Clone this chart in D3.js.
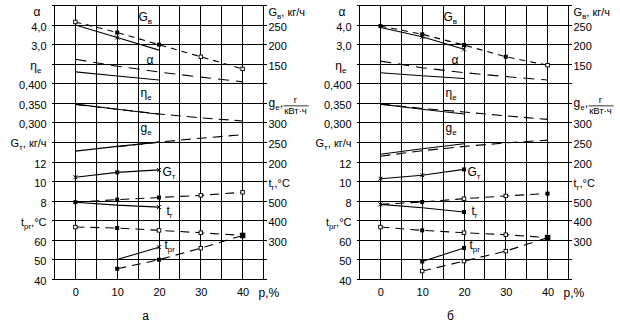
<!DOCTYPE html>
<html>
<head>
<meta charset="utf-8">
<script src="https://cdn.jsdelivr.net/npm/d3@7"></script>
<style>
  body { margin: 0; background: #fff; }
  text { font-family: "Liberation Sans", Arial, sans-serif; fill: #000; }
</style>
</head>
<body>
<div id="chart"></div>
<script>
// x values (p, %)
const pct = [0, 10, 20, 30, 40];
const pctShort = [0, 10, 20];
const pctTen = [10, 20];
const pctLate = [10, 20, 30, 40];
const xTicks = [0, 10, 20, 30, 40];

// tick values
const alphaTicks = [4, 3];
const etaTicks = [0.4, 0.35, 0.3];
const gtTicks = [12, 10, 8];
const tprTicks = [60, 50, 40];
const gvTicks = [250, 200, 150];
const geTicks = [300, 250, 200];
const trTicks = [500, 400, 300];

// panel а
const gvDashA = [258, 231, 200, 169, 138];
const gvSolidA = [250, 218, 186];
const alphaDashA = [2.25, 1.9, 1.6, 1.34, 1.1];
const alphaSolidA = [1.61, 1.4, 1.19];
const etaDashA = [0.347, 0.335, 0.323, 0.313, 0.305];
const etaSolidA = [0.348, 0.335, 0.322];
const geDashA = [239, 251, 261, 270];
const geSolidA = [228, 240, 251];
const gtA = [10.45, 10.95, 11.2];
const trDashA = [495, 508, 519, 530, 546];
const trSolidA = [495, 480, 470];
const tprUpperA = [66.8, 66.3, 65.1, 63.9, 62.5];
const tprSolidA = [50.2, 56.5];
const tprLowerA = [45.5, 50.1, 56, 62.5];

// panel б
const gvDashB = [247.5, 226.5, 199, 169, 147.5];
const gvSolidB = [244, 220, 188];
const alphaDashB = [2.16, 1.82, 1.57, 1.37, 1.19];
const alphaSolidB = [1.56, 1.41, 1.27];
const etaDashB = [0.348, 0.337, 0.328, 0.318, 0.309];
const etaSolidB = [0.348, 0.335, 0.323];
const geDashB = [215, 229, 240, 249, 256];
const geSolidB = [220, 234, 247];
const gtB = [10.3, 10.65, 11.25];
const trDashB = [484, 496, 513, 527, 539];
const trSolidB = [484, 467, 445];
const tprUpperB = [66.8, 65.1, 63.9, 62.9, 61.4];
const tprSolidB = [49.2, 56.1];
const tprLowerB = [44.3, 49.4, 54.5, 61.4];

// marker kinds: o open square, s filled square, S big filled, x cross, '' none
const panelA = {
  left: 54.5, letter: 'а',
  series: [
    {q: 'gv', xs: pct, v: gvDashA, dash: '6,5', m: ['o', 's', 's', 'o', 'o']},
    {q: 'gv', xs: pctShort, v: gvSolidA, m: ['', 'x', '']},
    {q: 'alpha', xs: pct, v: alphaDashA, dash: '11,7', m: []},
    {q: 'alpha', xs: pctShort, v: alphaSolidA, m: []},
    {q: 'eta', xs: pct, v: etaDashA, dash: '10,6', m: []},
    {q: 'eta', xs: pctShort, v: etaSolidA, m: []},
    {q: 'ge', xs: pctLate, v: geDashA, dash: '10,6', m: []},
    {q: 'ge', xs: pctShort, v: geSolidA, m: []},
    {q: 'gt', xs: pctShort, v: gtA, m: ['x', 's', 'x']},
    {q: 'tr', xs: pct, v: trDashA, dash: '9,6', m: ['s', 's', 's', 'o', 'o']},
    {q: 'tr', xs: pctShort, v: trSolidA, m: ['', '', 'x']},
    {q: 'tpr', xs: pct, v: tprUpperA, dash: '9,6', m: ['o', 's', 'o', 'o', 'S']},
    {q: 'tpr', xs: pctTen, v: tprSolidA, m: ['', 'x']},
    {q: 'tpr', xs: pctLate, v: tprLowerA, dash: '9,6', m: ['s', 's', 'o', '']}
  ]
};
const panelB = {
  left: 359.5, letter: 'б',
  series: [
    {q: 'gv', xs: pct, v: gvDashB, dash: '6,5', m: ['s', 's', 's', 's', 'o']},
    {q: 'gv', xs: pctShort, v: gvSolidB, m: ['', 'x', 'x']},
    {q: 'alpha', xs: pct, v: alphaDashB, dash: '11,7', m: []},
    {q: 'alpha', xs: pctShort, v: alphaSolidB, m: []},
    {q: 'eta', xs: pct, v: etaDashB, dash: '10,6', m: []},
    {q: 'eta', xs: pctShort, v: etaSolidB, m: []},
    {q: 'ge', xs: pct, v: geDashB, dash: '10,6', m: []},
    {q: 'ge', xs: pctShort, v: geSolidB, m: []},
    {q: 'gt', xs: pctShort, v: gtB, m: ['x', 'x', 's']},
    {q: 'tr', xs: pct, v: trDashB, dash: '9,6', m: ['x', 's', 'o', 'o', 's']},
    {q: 'tr', xs: pctShort, v: trSolidB, m: ['', '', 's']},
    {q: 'tpr', xs: pct, v: tprUpperB, dash: '9,6', m: ['o', 's', 'o', 'o', 'S']},
    {q: 'tpr', xs: pctTen, v: tprSolidB, m: ['s', 's']},
    {q: 'tpr', xs: pctLate, v: tprLowerB, dash: '9,6', m: ['o', 'o', 'o', '']}
  ]
};

const width = 620, height = 326;
const plotTop = 5.5, plotBottom = 279.5, pw = 209;

const svg = d3.select('#chart').append('svg')
  .attr('width', width)
  .attr('height', height);

// every quantity sits on the same 14 row grid
const rowY = d3.scaleLinear().domain([0, 14]).range([plotTop, plotBottom]);
const yScales = {
  alpha: d3.scaleLinear().domain([4, 3]).range([rowY(1), rowY(2)]),
  eta: d3.scaleLinear().domain([0.4, 0.3]).range([rowY(4), rowY(6)]),
  gt: d3.scaleLinear().domain([12, 8]).range([rowY(8), rowY(10)]),
  tpr: d3.scaleLinear().domain([60, 40]).range([rowY(12), rowY(14)]),
  gv: d3.scaleLinear().domain([250, 150]).range([rowY(1), rowY(3)]),
  ge: d3.scaleLinear().domain([300, 200]).range([rowY(6), rowY(8)]),
  tr: d3.scaleLinear().domain([500, 300]).range([rowY(10), rowY(12)])
};

const fmt = (n) => d => d3.format('.' + n + 'f')(d).replace('.', ',');

// text with subscripts: parts = [[text, isSub], ...]
function label(g, x, y, parts, anchor, size) {
  const t = g.append('text')
    .attr('x', x).attr('y', y)
    .attr('text-anchor', anchor || 'start')
    .style('font-size', (size || 11) + 'px');
  let shifted = 0;
  parts.forEach(p => {
    const sub = p[1];
    const dy = sub ? 3 - shifted : -shifted;
    shifted = sub ? 3 : 0;
    t.append('tspan').attr('dy', dy)
      .style('font-size', sub ? '8px' : null)
      .text(p[0]);
  });
  return t;
}

function drawPanel(p) {
  const g = svg.append('g').attr('transform', `translate(${p.left},0)`);
  const x = d3.scaleLinear().domain([-5, 45]).range([0, pw]);

  // grid
  g.append('g').selectAll('line').data(d3.range(-5, 46, 5)).join('line')
    .attr('x1', d => Math.round(x(d))).attr('x2', d => Math.round(x(d)))
    .attr('y1', plotTop).attr('y2', plotBottom)
    .attr('stroke', '#000').attr('stroke-width', 1)
    .attr('shape-rendering', 'crispEdges');
  g.append('g').selectAll('line').data(d3.range(0, 15)).join('line')
    .attr('x1', -3).attr('x2', pw + 3)
    .attr('y1', d => Math.round(rowY(d) - 0.5) + 0.5)
    .attr('y2', d => Math.round(rowY(d) - 0.5) + 0.5)
    .attr('stroke', '#000').attr('stroke-width', 1)
    .attr('shape-rendering', 'crispEdges');

  // left axes
  const leftAxes = [
    [yScales.alpha, alphaTicks, fmt(1)],
    [yScales.eta, etaTicks, fmt(3)],
    [yScales.gt, gtTicks, d => d],
    [yScales.tpr, tprTicks, d => d]
  ];
  leftAxes.forEach(a => {
    g.append('g')
      .attr('transform', 'translate(0,1.5)')
      .call(d3.axisLeft(a[0]).tickValues(a[1]).tickFormat(a[2]).tickSize(0).tickPadding(8))
      .call(s => s.select('.domain').remove())
      .selectAll('text').style('font-size', '11px').style('font-family', null);
  });
  const rightAxes = [
    [yScales.gv, gvTicks],
    [yScales.ge, geTicks],
    [yScales.tr, trTicks]
  ];
  rightAxes.forEach(a => {
    g.append('g')
      .attr('transform', `translate(${pw},1.5)`)
      .call(d3.axisRight(a[0]).tickValues(a[1]).tickSize(0).tickPadding(5))
      .call(s => s.select('.domain').remove())
      .selectAll('text').style('font-size', '11px').style('font-family', null);
  });

  // bottom axis
  g.append('g')
    .attr('transform', `translate(0,${plotBottom})`)
    .call(d3.axisBottom(x).tickValues(xTicks).tickSize(0).tickPadding(9))
    .call(s => s.select('.domain').remove())
    .selectAll('text').style('font-size', '11px').style('font-family', null);
  g.append('text').attr('x', pw - 5).attr('y', 297)
    .style('font-size', '12px').text('р,%');
  g.append('text').attr('x', 91).attr('y', 320)
    .attr('text-anchor', 'middle')
    .style('font-size', '12px').text(p.letter);

  // axis names, left
  label(g, -14, 15.5, [['α', false]], 'end', 12);
  label(g, -13, 70, [['η', false], ['e', true]], 'end', 12);
  label(g, -8, 147, [['G', false], ['т', true], [', кг/ч', false]], 'end', 11);
  label(g, -8, 225.5, [['t', false], ['pr', true], [',°C', false]], 'end', 11);
  // axis names, right
  label(g, pw + 5, 15.5, [['G', false], ['в', true], [', кг/ч', false]], 'start', 11);
  label(g, pw + 5, 107, [['g', false], ['e', true], [',', false]], 'start', 12);
  const fx = pw + 32;
  g.append('text').attr('x', fx).attr('y', rowY(5) - 0.5)
    .attr('text-anchor', 'middle').style('font-size', '9.5px').text('г');
  g.append('line')
    .attr('x1', pw + 20).attr('x2', pw + 45)
    .attr('y1', rowY(5) + 2.5).attr('y2', rowY(5) + 2.5)
    .attr('stroke', '#000').attr('stroke-width', 0.8);
  g.append('text').attr('x', fx).attr('y', rowY(5) + 10.5)
    .attr('text-anchor', 'middle').style('font-size', '9.5px').text('кВт·ч');
  label(g, pw + 5, 187, [['t', false], ['г', true], [',°C', false]], 'start', 11);

  // curve labels
  label(g, 84, 20.5, [['G', false], ['в', true]], 'start', 12);
  label(g, 92, 64, [['α', false]], 'start', 12);
  label(g, 86, 97, [['η', false], ['e', true]], 'start', 12);
  label(g, 86, 132, [['g', false], ['e', true]], 'start', 12);
  label(g, 108, 175.5, [['G', false], ['т', true]], 'start', 12);
  label(g, 112, 215, [['t', false], ['г', true]], 'start', 12);
  label(g, 110, 248.5, [['t', false], ['pr', true]], 'start', 12);

  // curves
  const line = d3.line().x(d => x(d.x)).y(d => d.y);
  p.series.forEach(s => {
    const ys = yScales[s.q];
    const pts = s.xs.map((xv, i) => ({x: xv, y: ys(s.v[i]), m: s.m[i] || ''}));
    g.append('path')
      .datum(pts)
      .attr('d', line)
      .attr('fill', 'none')
      .attr('stroke', '#000')
      .attr('stroke-width', 1.1)
      .attr('stroke-dasharray', s.dash || null);

    const mk = g.append('g').selectAll('g')
      .data(pts.filter(d => d.m))
      .join('g')
      .attr('transform', d => `translate(${x(d.x)},${d.y})`);
    mk.filter(d => d.m === 'o').append('rect')
      .attr('x', -1.75).attr('y', -1.75).attr('width', 3.5).attr('height', 3.5)
      .attr('fill', '#fff').attr('stroke', '#000').attr('stroke-width', 0.9);
    mk.filter(d => d.m === 's').append('rect')
      .attr('x', -2).attr('y', -2).attr('width', 4).attr('height', 4)
      .attr('fill', '#000');
    mk.filter(d => d.m === 'S').append('rect')
      .attr('x', -2.75).attr('y', -2.75).attr('width', 5.5).attr('height', 5.5)
      .attr('fill', '#000');
    mk.filter(d => d.m === 'x').append('path')
      .attr('d', 'M-2,-2L2,2M2,-2L-2,2')
      .attr('stroke', '#000').attr('stroke-width', 1);
  });
}

drawPanel(panelA);
drawPanel(panelB);
</script>
</body>
</html>
